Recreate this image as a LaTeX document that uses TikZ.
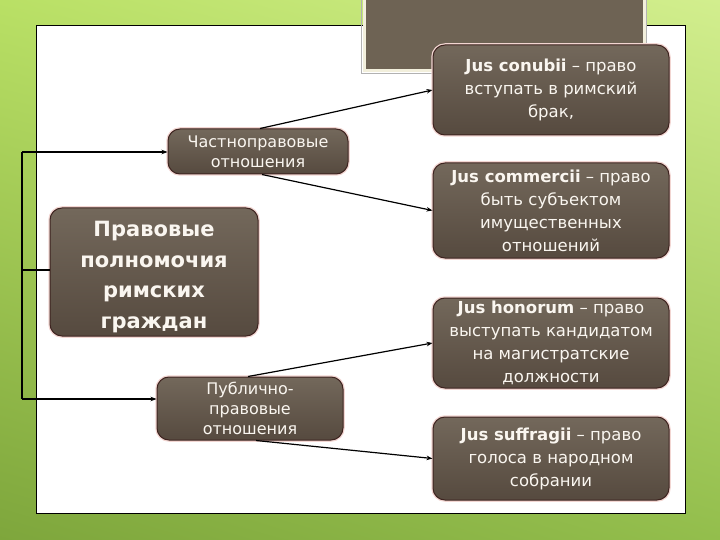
\documentclass[tikz,border=0pt]{standalone}
\usepackage{fontspec}
\setmainfont{DejaVu Sans}
\usetikzlibrary{arrows.meta,calc,shadings}
\definecolor{bgul}{HTML}{B9E065}
\definecolor{bgur}{HTML}{D2EE8E}
\definecolor{bgll}{HTML}{7EA63C}
\definecolor{bglr}{HTML}{93BE4C}
\definecolor{boxtop}{HTML}{73685B}
\definecolor{boxbot}{HTML}{564A3F}
\definecolor{boxedge}{HTML}{3E2420}
\definecolor{boxglow}{HTML}{F2D6D2}
\definecolor{boxtext}{HTML}{FAF6F0}
\definecolor{titlefill}{HTML}{6E6354}
\definecolor{titleedge}{HTML}{F2EFDC}
\begin{document}
\begin{tikzpicture}[x=1pt,y=-1pt,
  boxbase/.style={rounded corners=12pt, draw=boxedge, line width=1pt,
    top color=boxtop, bottom color=boxbot, text=boxtext, align=center,
    inner sep=0pt,
    preaction={draw=boxglow, line width=3.5pt, rounded corners=12pt}},
  rbox/.style={boxbase, minimum width=236pt, font=\fontsize{16.5}{23}\selectfont},
  lbox/.style={boxbase, font=\fontsize{16}{20}\selectfont},
  mainbox/.style={boxbase, minimum width=208pt, minimum height=128pt},
  maintext/.style={text=boxtext, align=center, inner sep=0pt,
    font=\fontsize{21}{30.5}\selectfont\bfseries},
  conn/.style={draw=black, line width=1.2pt},
  arr/.style={conn, -{Stealth[length=6pt,width=4.5pt]}}
]
\useasboundingbox (0,0) rectangle (720,540);
% background
\shade[upper left=bgul, upper right=bgur, lower left=bgll, lower right=bglr]
  (0,0) rectangle (720,540);
% white panel
\draw[fill=white, draw=black, line width=0.8pt] (36,25) rectangle (685,513);
% title placeholder
\draw[fill=titlefill, draw=titleedge, line width=3pt] (364,-4) rectangle (644,71);
\draw[draw=gray!60, line width=0.5pt] (361.5,-4) rectangle (646.5,73.5);

% nodes
\node[mainbox] (main) at (154,272) {};
\node[maintext] (maintxt) at ($(main.center)+(0,5)$) {Правовые\\полномочия\\римских\\граждан};
\node[lbox, minimum width=180pt, minimum height=45pt] (priv) at (258,151.5)
  {Частноправовые\\отношения};
\node[lbox, minimum width=186pt, minimum height=63pt] (pub) at (250,408.5)
  {Публично-\\правовые\\отношения};
\node[rbox, minimum height=90pt] (r1) at (551,90)
  {\textbf{Jus conubii} – право\\вступать в римский\\брак,};
\node[rbox, minimum height=95pt] (r2) at (551,210.5)
  {\textbf{Jus commercii} – право\\быть субъектом\\имущественных\\отношений};
\node[rbox, minimum height=90pt] (r3) at (551,343)
  {\textbf{Jus honorum} – право\\выступать кандидатом\\на магистратские\\должности};
\node[rbox, minimum height=83pt] (r4) at (551,458.5)
  {\textbf{Jus suffragii} – право\\голоса в народном\\собрании};

% connectors
\coordinate (jm) at (22,270);
\coordinate (jt) at (22,152);
\coordinate (jb) at (22,399);
\draw[conn] (main.west |- jm) -- (jm);
\draw[conn] (jt) -- (jb);
\draw[arr] (jt) -- (priv.west |- jt);
\draw[arr] (jb) -- (pub.west |- jb);
\draw[arr] ($(priv.north)+(2,0)$) -- (r1.west);
\draw[arr] ($(priv.south)+(4,0)$) -- (r2.west);
\draw[arr] ($(pub.north)+(-2,0)$) -- (r3.west);
\draw[arr] ($(pub.south)+(6,0)$) -- (r4.west);
\end{tikzpicture}
\end{document}
